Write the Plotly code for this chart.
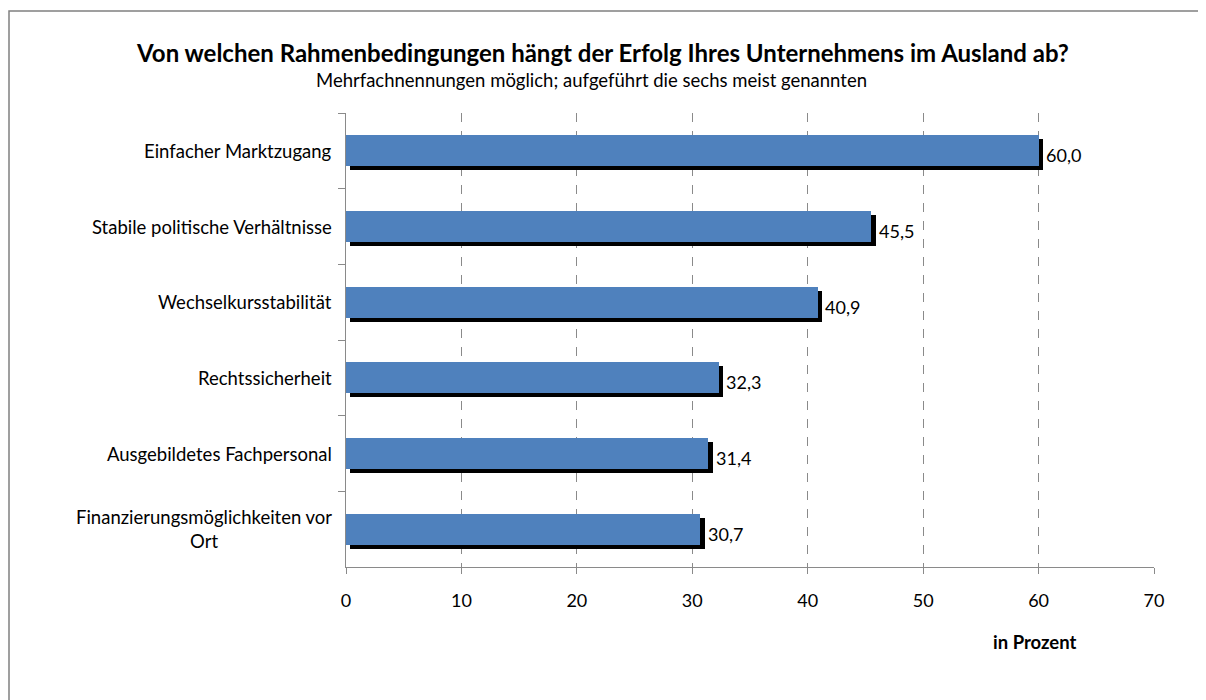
import plotly.graph_objects as go

categories = [
    "Einfacher Marktzugang",
    "Stabile politische Verhältnisse",
    "Wechselkursstabilität",
    "Rechtssicherheit",
    "Ausgebildetes Fachpersonal",
    "Finanzierungsmöglichkeiten vor<br>Ort",
]
values = [60.0, 45.5, 40.9, 32.3, 31.4, 30.7]
x_ticks = [0, 10, 20, 30, 40, 50, 60, 70]

title_text = "Von welchen Rahmenbedingungen hängt der Erfolg Ihres Unternehmens im Ausland ab?"
subtitle_text = "Mehrfachnennungen möglich; aufgeführt die sechs meist genannten"
axis_title = "in Prozent"

# page has an 8px body margin; figure pixel = page pixel - 8
OFF = 8
W, H = 1198, 692
ML = 346 - OFF
MR = W - (1154 - OFF)
MT = 113 - OFF
MB = H - (567 - OFF)
PW = W - ML - MR
PH = H - MT - MB

def px_x(p):
    return (p - OFF - ML) / PW

def px_y(p):
    return (H - MB - (p - OFF)) / PH

FONT = "Lato"
bar_w = 0.41
shadow_dx = 0.38
shadow_dy = 0.053

fig = go.Figure()
# shadow bars
fig.add_trace(go.Bar(
    y=categories, x=values, base=shadow_dx, orientation="h",
    width=bar_w, offset=-bar_w / 2 + shadow_dy,
    marker=dict(color="black", line=dict(width=0)),
    texttemplate="%{x:.1f}", textposition="outside",
    textfont=dict(family=FONT, size=18, color="black"),
    cliponaxis=False, hoverinfo="skip", showlegend=False,
))
# main bars
fig.add_trace(go.Bar(
    y=categories, x=values, orientation="h",
    width=bar_w, offset=-bar_w / 2,
    marker=dict(color="#4F81BD", line=dict(width=0)),
    showlegend=False,
))

annotations = []
for c in categories:
    annotations.append(dict(
        x=0, y=c, xref="x", yref="y", text=c, showarrow=False,
        xanchor="right", yanchor="middle", align="center", xshift=-12,
        font=dict(family=FONT, size=18.5, color="black"),
    ))
annotations.append(dict(
    x=px_x(591), y=px_y(80), xref="paper", yref="paper", text=subtitle_text,
    showarrow=False, xanchor="center", yanchor="middle",
    font=dict(family=FONT, size=18.5, color="black"),
))
annotations.append(dict(
    x=px_x(1035), y=px_y(642), xref="paper", yref="paper", text="<b>" + axis_title + "</b>",
    showarrow=False, xanchor="center", yanchor="middle",
    font=dict(family=FONT, size=18.5, color="black"),
))

fig.update_layout(
    width=W, height=H,
    margin=dict(l=ML, r=MR, t=MT, b=MB, autoexpand=False),
    paper_bgcolor="white", plot_bgcolor="white",
    barmode="overlay", bargap=0,
    separators=",.",
    title=dict(text="<b>" + title_text + "</b>", x=(603 - OFF) / W, xref="container", xanchor="center",
               y=1 - (54 - OFF) / H, yref="container", yanchor="middle",
               font=dict(family=FONT, size=24, color="black")),
    annotations=annotations,
    xaxis=dict(
        range=[0, 70], tickvals=x_ticks, ticktext=[str(v) for v in x_ticks],
        showgrid=True, gridcolor="#8a8a8a", griddash="dash", gridwidth=1,
        zeroline=False, showline=True, linecolor="#8a8a8a", linewidth=1,
        ticks="outside", ticklen=6, tickcolor="#8a8a8a",
        ticklabelstandoff=11,
        tickfont=dict(family=FONT, size=18, color="black"),
        fixedrange=True,
    ),
    yaxis=dict(
        autorange="reversed", type="category",
        showticklabels=False, showgrid=False, zeroline=False,
        showline=True, linecolor="#8a8a8a", linewidth=1,
        ticks="outside", ticklen=7, tickcolor="#8a8a8a", tickson="boundaries",
        fixedrange=True,
    ),
    shapes=[dict(
        type="rect", xref="paper", yref="paper",
        x0=px_x(9), x1=px_x(1215), y0=px_y(710), y1=px_y(11),
        line=dict(color="#808080", width=1.5), fillcolor="rgba(0,0,0,0)", layer="below",
    )],
)

fig.write_html("out.html")
